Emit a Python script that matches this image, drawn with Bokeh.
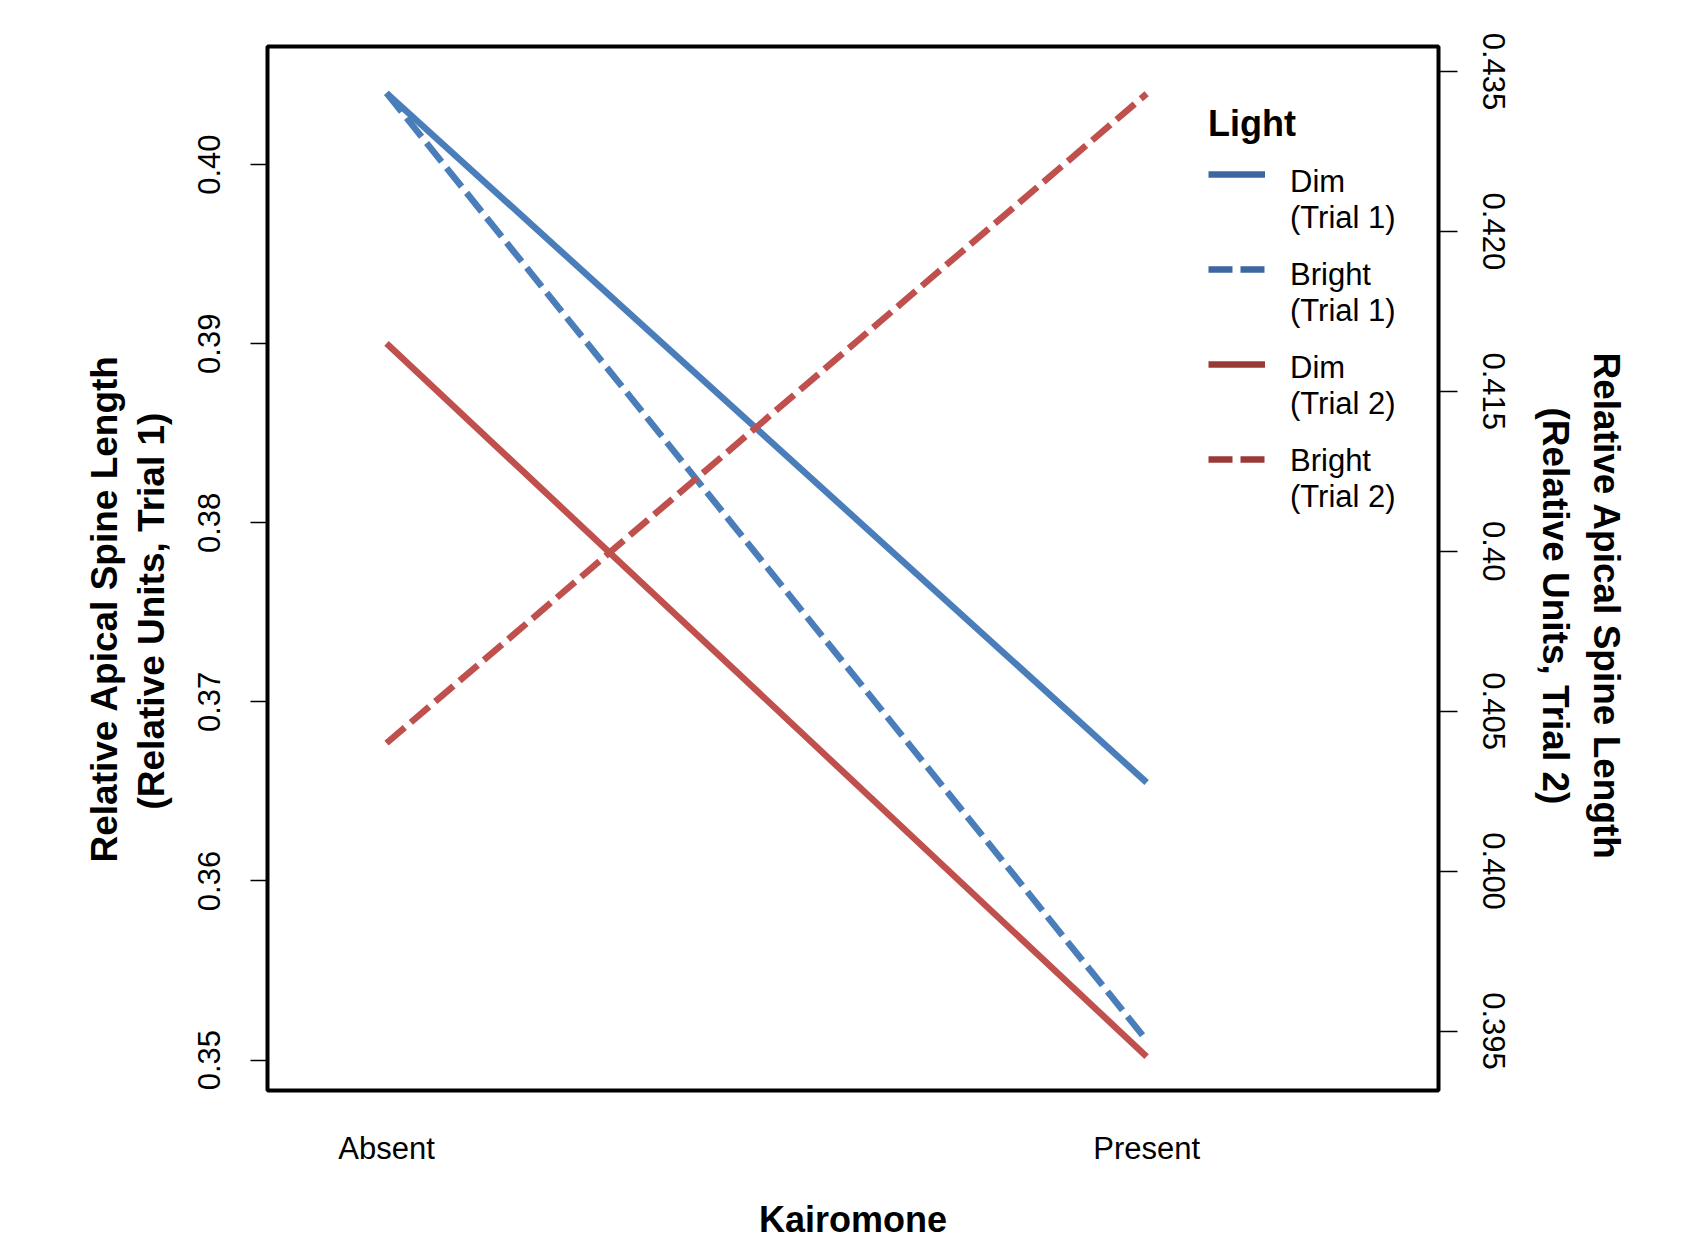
from bokeh.plotting import figure
from bokeh.models import Range1d, LinearAxis, FixedTicker, Legend, LegendItem, Title
from bokeh.embed import file_html
from bokeh.resources import INLINE

# ---- data ----
kairomone = ["Absent", "Present"]
x_pos = [1, 2]
dim_trial1 = [0.4040, 0.3655]
bright_trial1 = [0.4040, 0.3511]
dim_trial2 = [0.4165, 0.3942]
bright_trial2 = [0.4040, 0.4243]

left_ticks = [0.35, 0.36, 0.37, 0.38, 0.39, 0.40]
left_labels = ["0.35", "0.36", "0.37", "0.38", "0.39", "0.40"]
right_ticks = [0.395, 0.400, 0.405, 0.410, 0.415, 0.420, 0.425]
right_labels = ["0.395", "0.400", "0.405", "0.40", "0.415", "0.420", "0.435"]

legend_labels = ["Dim\n(Trial 1)", "Bright\n(Trial 1)", "Dim\n(Trial 2)", "Bright\n(Trial 2)"]
left_title = ["Relative Apical Spine Length", "(Relative Units, Trial 1)"]
right_title = ["Relative Apical Spine Length", "(Relative Units, Trial 2)"]

BLUE = "#4a7ebb"
RED = "#c0504d"
BLUE_LEG = "#3c67a0"
RED_LEG = "#9a3a37"
FONT = "Liberation Sans"

p = figure(width=1683, height=1242, output_backend="svg", toolbar_location=None,
           x_range=Range1d(0.8434, 2.384), y_range=Range1d(0.3483, 0.4066),
           min_border_left=267, min_border_right=245, min_border_top=46, min_border_bottom=150)
p.extra_y_ranges = {"t2": Range1d(0.39314, 0.42578)}

p.grid.visible = False
p.outline_line_color = "black"
p.outline_line_width = 4
p.background_fill_color = "white"
p.border_fill_color = "white"

# x axis
p.xaxis.ticker = FixedTicker(ticks=x_pos)
p.xaxis.major_label_overrides = {x: k for x, k in zip(x_pos, kairomone)}
p.xaxis.axis_line_color = None
p.xaxis.major_tick_line_color = None
p.xaxis.minor_tick_line_color = None
p.xaxis.major_label_text_font = FONT
p.xaxis.major_label_text_font_size = "31px"
p.xaxis.major_label_text_color = "black"
p.xaxis.major_label_standoff = 34
p.xaxis.axis_label = "Kairomone"
p.xaxis.axis_label_text_font = FONT
p.xaxis.axis_label_text_font_size = "36px"
p.xaxis.axis_label_text_font_style = "bold"
p.xaxis.axis_label_text_color = "black"
p.xaxis.axis_label_standoff = 30

# left axis
ya = p.yaxis[0]
ya.ticker = FixedTicker(ticks=left_ticks)
ya.major_label_overrides = {t: l for t, l in zip(left_ticks, left_labels)}
ya.axis_line_color = None
ya.major_tick_line_color = "black"
ya.major_tick_line_width = 1.5
ya.major_tick_out = 17
ya.major_tick_in = 0
ya.minor_tick_line_color = None
ya.major_label_orientation = "parallel"
ya.major_label_text_font = FONT
ya.major_label_text_font_size = "31px"
ya.major_label_text_color = "black"
ya.major_label_standoff = 30

# right axis
ra = LinearAxis(y_range_name="t2")
ra.ticker = FixedTicker(ticks=right_ticks)
ra.major_label_overrides = {t: l for t, l in zip(right_ticks, right_labels)}
ra.axis_line_color = None
ra.major_tick_line_color = "black"
ra.major_tick_line_width = 1.5
ra.major_tick_out = 19
ra.major_tick_in = 0
ra.minor_tick_line_color = None
ra.major_label_orientation = "parallel"
ra.major_label_text_font = FONT
ra.major_label_text_font_size = "31px"
ra.major_label_text_color = "black"
ra.major_label_standoff = 25
p.add_layout(ra, "right")

# axis titles: one side title per line (inner line first), shifted along the side
def side_title(text, offset, standoff):
    return Title(text=text, align="left", offset=offset, standoff=standoff,
                 text_font=FONT, text_font_size="37px", text_font_style="bold",
                 text_color="black")

p.add_layout(side_title(left_title[1], 281, 47), "left")
p.add_layout(side_title(left_title[0], 228, -38), "left")
p.add_layout(side_title(right_title[1], 361, 55), "right")
p.add_layout(side_title(right_title[0], 306, -40), "right")

# data lines
LW = 6.5
DASH = "24 8"
p.line(x_pos, dim_trial1, line_color=BLUE, line_width=LW)
p.line(x_pos, bright_trial1, line_color=BLUE, line_width=LW, line_dash=DASH)
p.line(x_pos, dim_trial2, line_color=RED, line_width=LW, y_range_name="t2")
p.line(x_pos, bright_trial2, line_color=RED, line_width=LW, line_dash=DASH, y_range_name="t2")

# legend proxies (single point each -> nothing drawn in the plot, only in the legend)
styles = [(BLUE_LEG, "solid", None), (BLUE_LEG, DASH, None), (RED_LEG, "solid", "t2"), (RED_LEG, DASH, "t2")]
series = [dim_trial1, bright_trial1, dim_trial2, bright_trial2]
glyph_r, blank_r = [], []
for (c, d, rn), s in zip(styles, series):
    kw = dict(y_range_name=rn) if rn else {}
    glyph_r.append(p.line(x_pos[:1], s[:1], line_color=c, line_width=6.5, line_dash=d, **kw))
    blank_r.append(p.line(x_pos[:1], s[:1], line_color=c, line_alpha=0, line_width=6.5, **kw))


def style_legend(lg):
    lg.label_text_font = FONT
    lg.label_text_font_size = "31px"
    lg.label_text_color = "black"
    lg.label_text_line_height = 1.3
    lg.glyph_width = 57
    lg.glyph_height = 30
    lg.label_standoff = 25
    lg.padding = 0
    lg.margin = 0
    lg.border_line_color = None
    lg.background_fill_alpha = 0


# text part of the legend (title + two-line labels)
legend_text = Legend(items=[LegendItem(label=l, renderers=[r]) for l, r in zip(legend_labels, blank_r)],
                     location=(941, 575), title="Light")
style_legend(legend_text)
legend_text.title_text_font = FONT
legend_text.title_text_font_size = "36px"
legend_text.title_text_font_style = "bold"
legend_text.title_text_color = "black"
legend_text.title_standoff = 19
legend_text.spacing = 21
p.add_layout(legend_text)

# glyph part of the legend (line samples level with the first text line)
legend_glyph = Legend(items=[LegendItem(label=" ", renderers=[r]) for r in glyph_r],
                      location=(941, 616))
style_legend(legend_glyph)
legend_glyph.spacing = 65
p.add_layout(legend_glyph)

open("out.html", "w").write(file_html(p, INLINE))
